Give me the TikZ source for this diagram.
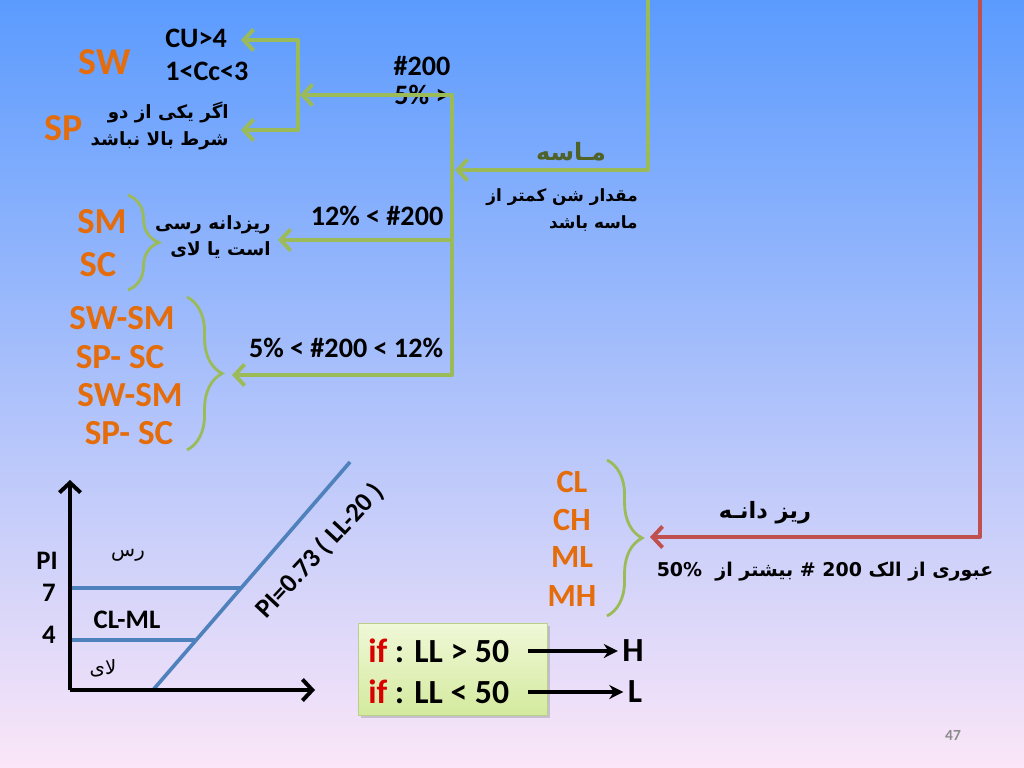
\documentclass[tikz,border=0pt]{standalone}
\usepackage{fontspec}
\setmainfont{Carlito}
\newfontfamily\fa[Script=Arabic]{DejaVu Sans}
\TeXXeTstate=1
\usetikzlibrary{calc}
\usetikzlibrary{arrows.meta}
\usetikzlibrary{shadows}
\usetikzlibrary{decorations.pathreplacing}

\definecolor{grn}{HTML}{9BBB59}
\definecolor{org}{HTML}{E46C0A}
\definecolor{redl}{HTML}{C0504D}
\definecolor{bluel}{HTML}{4F81BD}
\definecolor{olive}{HTML}{4F6228}

\tikzset{
  gline/.style={grn, line width=2.8pt, line join=round},
  garr/.style={gline, -{Straight Barb[length=7pt,width=15pt]}},
  soil/.style={text=org, font=\bfseries\fontsize{27}{29}\selectfont, inner sep=0pt},
  dual/.style={soil, font=\bfseries\fontsize{25}{27}\selectfont},
  fg/.style={soil, font=\bfseries\fontsize{23}{25}\selectfont},
  cond/.style={font=\bfseries\fontsize{20}{22}\selectfont, inner sep=0pt},
  axl/.style={font=\bfseries\fontsize{19}{21}\selectfont, inner sep=0pt},
  big/.style={font=\bfseries\fontsize{24}{26}\selectfont, inner sep=0pt},
  farsi/.style={font=\fa\bfseries\fontsize{13}{19}\selectfont, align=right, inner sep=0pt},
  brc/.style={grn, line width=2pt, decorate, decoration={brace, amplitude=#1}},
  chart/.style={bluel, line width=2.6pt},
}

\begin{document}
\begin{tikzpicture}[x=0.025cm, y=-0.025cm]
\useasboundingbox (0,0) rectangle (1024,768);
\shade[top color={rgb,255:red,91;green,155;blue,254}, middle color={rgb,255:red,150;green,192;blue,245}, bottom color={rgb,255:red,251;green,230;blue,248}] (0,0) rectangle (1024,768);

% top branch: SW / SP
\node[soil] (sw) at (105,62) {SW};
\node[soil] (sp) at (64,128) {SP};
\node[cond, anchor=west] (cu) at (165,38) {CU>4};
\node[cond, anchor=west] (cc) at (165,71) {1<Cc<3};
\node[farsi, anchor=east] (notboth) at (229,126) {\beginR اگر یکی از دو\endR\\\beginR شرط بالا نباشد\endR};
\node[cond] (n200) at (422,66) {\#200};
\node[cond] (n5) at (422,95) {5\% >};

\coordinate (t1) at (298,40);
\coordinate (t2) at (298,130);
\coordinate (a1) at (241,40);
\coordinate (a2) at (241,130);
\draw[garr] (t2) -- (t1) -- (a1);
\draw[garr] (t1) -- (t2) -- (a2);

% main green trunk
\coordinate (v0) at (452,95);
\coordinate (v1) at (452,375);
\coordinate (v2) at (452,240);
\coordinate (a3) at (300,95);
\coordinate (a4) at (278,240);
\coordinate (a5) at (232,375);
\draw[garr] (v1) -- (v0) -- (a3);
\draw[garr] (v0) -- (v1) -- (a5);
\draw[garr] (v2) -- (a4);

% sand
\coordinate (s0) at (648,-5);
\coordinate (s1) at (648,170);
\coordinate (a6) at (455,170);
\draw[garr] (s0) -- (s1) -- (a6);
\node[text=olive, font=\fa\bfseries\fontsize{17}{20}\selectfont, inner sep=0pt] (sand) at (571,152) {\beginR مـاسه\endR};
\node[farsi, font=\fa\bfseries\fontsize{12}{19}\selectfont, anchor=east] (gravel) at (638,210) {\beginR مقدار شن کمتر از\endR\\\beginR ماسه باشد\endR};

% SM / SC
\node[cond] (c12) at (377,216) {12\% < \#200};
\node[soil, font=\bfseries\fontsize{26}{28}\selectfont] (sm) at (102,222) {SM};
\node[soil, font=\bfseries\fontsize{26}{28}\selectfont] (sc) at (98,265) {SC};
\draw[brc=22pt] (128,195) -- (128,290);
\node[farsi, anchor=east] (fines) at (271,237) {\beginR ریزدانه رسی\endR\\\beginR است یا لای\endR};

% dual symbols
\node[cond] (c512) at (346,348) {5\% < \#200 < 12\%};
\node[dual] (d1) at (122,318) {SW-SM};
\node[dual] (d2) at (120,357) {SP- SC};
\node[dual] (d3) at (130,395) {SW-SM};
\node[dual] (d4) at (129,433) {SP- SC};
\draw[brc=25pt] (187,297) -- (187,450);

% fine grained
\coordinate (r0) at (980,-5);
\coordinate (r1) at (980,537);
\coordinate (a7) at (650,537);
\draw[redl, line width=2.8pt, line join=round, -{Straight Barb[length=7pt,width=15pt]}] (r0) -- (r1) -- (a7);
\node[font=\fa\bfseries\fontsize{16}{20}\selectfont, inner sep=0pt] (fine) at (765,513) {\beginR ریز دانـه\endR};
\node[farsi, font=\fa\bfseries\fontsize{13.5}{20}\selectfont] (pass) at (825,572) {\beginR عبوری از الک \beginL200\endL{} \# بیشتر از \ \beginL50\%\endL\endR};
\node[fg] (cl) at (572,482) {CL};
\node[fg] (ch) at (572,520) {CH};
\node[fg] (ml) at (572,557) {ML};
\node[fg] (mh) at (572,596) {MH};
\draw[brc=25pt] (607,460) -- (607,616);

% plasticity chart
\coordinate (O) at (70,690);
\coordinate (ytop) at (70,480);
\coordinate (xend) at (315,690);
\coordinate (p7) at (70,588);
\coordinate (p4) at (70,640);
\coordinate (d0) at (153,690);
\coordinate (d9) at (350,462);
\draw[chart] (p7) -- (240,588);
\draw[chart] (p4) -- (195,640);
\draw[chart] (d0) -- (d9);
\draw[black, line width=2.8pt, -{Straight Barb[length=7pt,width=15pt]}] (O) -- (ytop);
\draw[black, line width=2.8pt, -{Straight Barb[length=7pt,width=15pt]}] (O) -- (xend);
\node[axl] (pi) at (47,561) {PI};
\node[axl] (l7) at (49,593) {7};
\node[axl] (l4) at (49,635) {4};
\node[font=\fa\fontsize{14}{16}\selectfont, inner sep=0pt] (clay) at (128,555) {\beginR رس\endR};
\node[axl] (clml) at (127,620) {CL-ML};
\node[font=\fa\fontsize{14}{16}\selectfont, inner sep=0pt] (silt) at (103,668) {\beginR لای\endR};
\node[axl, rotate=47] (aline) at (320,551) {PI=0.73 ( LL-20 )};

% liquid limit box
\node[draw=grn!70, top color={rgb,255:red,240;green,248;blue,216}, bottom color={rgb,255:red,212;green,234;blue,158}, drop shadow={shadow xshift=2pt, shadow yshift=-2pt, opacity=0.35}, minimum width=189*0.025cm, minimum height=92*0.025cm] (box) at (452.5,669) {};
\node[big, anchor=west] (if1) at (368,651) {\textcolor{red!85!black}{if} : LL > 50};
\node[big, anchor=west] (if2) at (368,692) {\textcolor{red!85!black}{if} : LL < 50};
\node[big] (hh) at (633,651) {H};
\node[big] (ll) at (635,692) {L};
\coordinate (b1) at (528,651);
\coordinate (b2) at (528,692);
\draw[black, line width=2.2pt, -{Stealth[length=10pt,width=10pt]}, shorten >=3pt] (b1) -- (hh.west);
\draw[black, line width=2.2pt, -{Stealth[length=10pt,width=10pt]}, shorten >=3pt] (b2) -- (ll.west);

\node[text=black!45, font=\bfseries\fontsize{11}{12}\selectfont] (pg) at (953,735) {47};
\end{tikzpicture}
\end{document}
